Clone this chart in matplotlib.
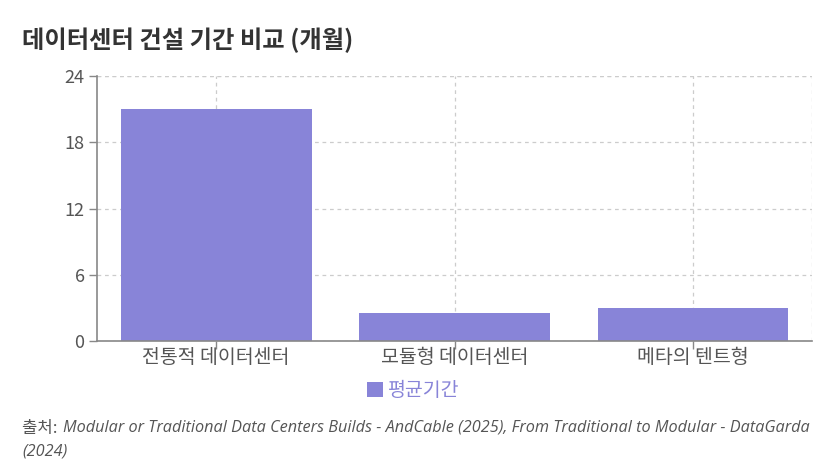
import matplotlib
matplotlib.use("Agg")
import matplotlib.pyplot as plt
import numpy as np

categories = ["전통적 데이터센터", "모듈형 데이터센터", "메타의 텐트형"]
avg_months = [21, 2.5, 3]
y_ticks = [0, 6, 12, 18, 24]
series_name = "평균기간"

title = "데이터센터 건설 기간 비교 (개월)"
source_prefix = "출처: "
source_line1 = "Modular or Traditional Data Centers Builds - AndCable (2025), From Traditional to Modular - DataGarda"
source_line2 = "(2024)"

bar_color = "#8884d8"
axis_color = "#888888"
text_color = "#555555"

plt.rcParams["font.family"] = ["Noto Sans CJK KR", "DejaVu Sans"]

fig = plt.figure(figsize=(8.27, 4.72), dpi=100)
ax = fig.add_axes([97 / 827, 1 - 341 / 472, (812 - 97) / 827, (341 - 76) / 472])

x = np.arange(len(categories))
ax.bar(x, avg_months, width=0.8, color=bar_color, label=series_name, zorder=2)

ax.set_xlim(-0.5, len(categories) - 0.5)
ax.set_ylim(0, 24)
ax.set_yticks(y_ticks)
ax.set_xticks(x)
ax.set_xticklabels(categories)

# dashed grid like recharts CartesianGrid
ax.grid(True, color="#cccccc", linestyle=(0, (3, 3)), linewidth=0.9, zorder=0)
ax.axvline(len(categories) - 0.5, color="#cccccc", linestyle=(0, (3, 3)), linewidth=0.9, zorder=0)
ax.axhline(24, color="#cccccc", linestyle=(0, (3, 3)), linewidth=0.9, zorder=0)

for side in ["top", "right"]:
    ax.spines[side].set_visible(False)
for side in ["left", "bottom"]:
    ax.spines[side].set_color(axis_color)
    ax.spines[side].set_linewidth(1.2)

ax.tick_params(axis="both", colors=axis_color, length=6, width=1,
               labelcolor=text_color)
ax.tick_params(axis="x", labelsize=14, pad=-2)
ax.tick_params(axis="y", labelsize=13, pad=3)

fig.text(22 / 827, 1 - 40 / 472, title, fontsize=17.5, fontweight="bold",
         color="#333333", va="center", ha="left")

fig.legend(loc="center", bbox_to_anchor=(0.5, 1 - 391 / 472), frameon=False,
           handlelength=0.8, handleheight=0.8, handletextpad=0.3,
           fontsize=14, labelcolor=bar_color)

fig.text(22 / 827, 1 - 428 / 472, source_prefix, fontsize=12, color=text_color,
         va="center", ha="left")
fig.text(63 / 827, 1 - 428 / 472, source_line1, fontsize=11.7, color=text_color,
         va="center", ha="left", style="italic", family=["Open Sans", "DejaVu Sans"])
fig.text(22 / 827, 1 - 452 / 472, source_line2, fontsize=11.7, color=text_color,
         va="center", ha="left", style="italic", family=["Open Sans", "DejaVu Sans"])

fig.savefig("out.png", dpi=100)
